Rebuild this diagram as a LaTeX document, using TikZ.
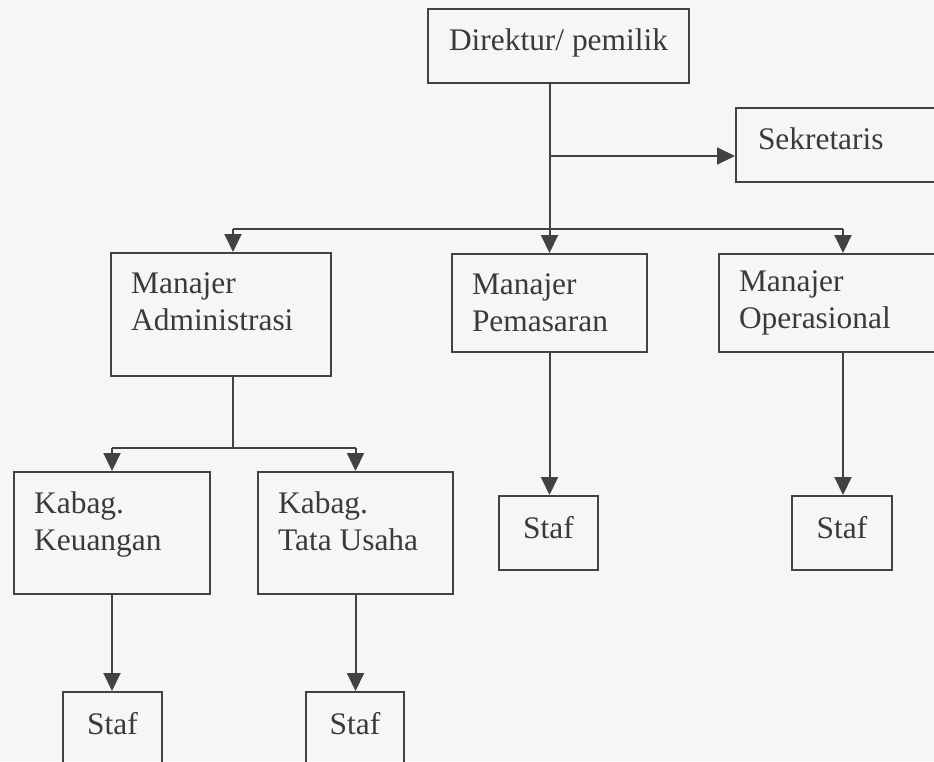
\documentclass[tikz,border=0pt]{standalone}
\usepackage{fontspec}
\setmainfont{Liberation Serif}
\usetikzlibrary{positioning}
\usetikzlibrary{arrows.meta}

\definecolor{abu}{RGB}{66,66,66}
\definecolor{tinta}{RGB}{58,58,58}
\definecolor{latar}{RGB}{246,246,244}

\begin{document}
\begin{tikzpicture}[
x=1pt, y=-1pt,
every node/.style={font=\fontsize{31.4pt}{37pt}\selectfont, text=tinta},
jalur/.style={draw=abu, line width=2pt},
panah/.style={jalur, -{Triangle[length=18pt,width=17pt]}}
]

\tikzstyle{kotak} = [draw=abu, line width=2pt, rectangle, anchor=north west, inner sep=0pt]
\tikzstyle{satu} = [kotak, minimum height=74pt, text depth=12pt]
\tikzstyle{dua} = [kotak, minimum height=98pt, align=left, inner xsep=20pt]
\tikzstyle{tulis} = [anchor=north west, align=left, inner xsep=21pt, inner ysep=21pt]

\fill[latar] (0,0) rectangle (934,761);
\clip (0,0) rectangle (934,761);

\node[satu, minimum width=261pt] (dir) at (427,8) {Direktur/ pemilik};
\node[satu, minimum width=215pt, align=left, text width=171pt, inner xsep=22pt] (sek) at (735,107) {Sekretaris};

\node[kotak, minimum width=220pt, minimum height=123pt,
  label={[tulis]north west:{Manajer\\Administrasi}}] (adm) at (110,252) {};
\node[dua, text width=155pt] (pem) at (451,253) {Manajer\\Pemasaran};
\node[dua, text width=208pt] (ops) at (718,253) {Manajer\\Operasional};

\node[kotak, minimum width=196pt, minimum height=122pt,
  label={[tulis]north west:{Kabag.\\Keuangan}}] (keu) at (13,471) {};
\node[kotak, minimum width=195pt, minimum height=122pt,
  label={[tulis]north west:{Kabag.\\Tata Usaha}}] (tu) at (257,471) {};

\node[satu, minimum width=99pt] (sp) at (498,495) {Staf};
\node[satu, minimum width=100pt] (so) at (791,495) {Staf};
\node[satu, minimum width=99pt] (sk) at (62,691) {Staf};
\node[satu, minimum width=98pt] (st) at (305,691) {Staf};

% titik cabang
\coordinate (ta) at ([xshift=12pt]adm.north);
\coordinate (bus) at (548,229);
\coordinate (sb) at (233,448);
\coordinate (ks) at ([yshift=-11pt]sek.west);

\draw[panah] (dir.south -| pem.north) -- (pem.north);
\draw[panah] (ks -| pem.north) -- (ks);
\draw[jalur] (bus -| ta) -- (bus -| ops.north);
\draw[panah] (bus -| ta) -- (ta);
\draw[panah] (bus -| ops.north) -- (ops.north);

\draw[jalur] (adm.south -| ta) -- (ta |- sb);
\draw[jalur] (sb -| keu.north) -- (sb -| tu.north);
\draw[panah] (sb -| keu.north) -- (keu.north);
\draw[panah] (sb -| tu.north) -- (tu.north);

\draw[panah] (keu.south) -- (keu.south |- sk.north);
\draw[panah] (tu.south) -- (tu.south |- st.north);
\draw[panah] (pem.south) -- (pem.south |- sp.north);
\draw[panah] (ops.south) -- (ops.south |- so.north);
\end{tikzpicture}
\end{document}
